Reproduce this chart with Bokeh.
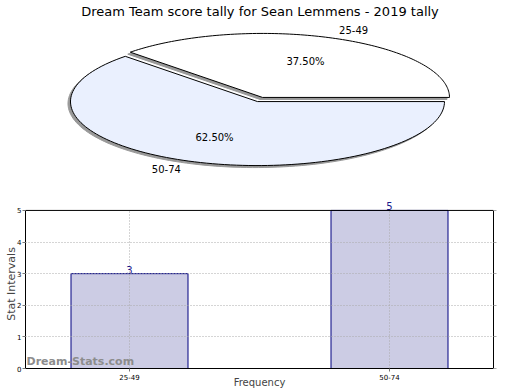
import numpy as np
from bokeh.plotting import figure
from bokeh.layouts import column
from bokeh.models import (Range1d, ColumnDataSource, Label, FixedTicker, LinearAxis, Span)
from bokeh.embed import file_html
from bokeh.resources import INLINE

# ---- data ----
title_text = "Dream Team score tally for Sean Lemmens - 2019 tally"
categories = ["25-49", "50-74"]
counts = [3, 5]
slice_colors = ["#ffffff", "#eaf0fe"]
y_label = "Stat Intervals"
x_label = "Frequency"
watermark = "Dream-Stats.com"
y_ticks = [0, 1, 2, 3, 4, 5]

FONT = "DejaVu Sans"

# ---- layout constants (pixels) ----
W = 520
PH = 198                      # pie figure height
BH = 390 - PH                 # bar figure height
BL, BR = 25, 27               # left/right borders shared by both figures
FW = W - BL - BR              # frame width

# ---- pie (ellipse) ----
RX, RY = 187.0, 64.0          # px per unit
CX, CY = 234.5, 99.0          # centre in frame px (from left / top)
pie = figure(width=W, height=PH, output_backend="svg", toolbar_location=None,
             x_range=Range1d(-CX / RX, (FW - CX) / RX),
             y_range=Range1d(-(PH - CY) / RY, CY / RY),
             x_axis_location=None, y_axis_location=None, title=None,
             min_border_left=BL, min_border_right=BR, min_border_top=0, min_border_bottom=0)
pie.grid.visible = False
pie.outline_line_color = None

total = float(sum(counts))
explode = 0.035
start = 0.0
shadow_xs, shadow_ys, xs, ys = [], [], [], []
pct_x, pct_y, pct_t = [], [], []
lab_x, lab_y = [], []
for c in counts:
    ang = 2 * np.pi * c / total
    mid = start + ang / 2
    ox, oy = explode * np.cos(mid), explode * np.sin(mid)
    t = np.linspace(start, start + ang, 120)
    px = np.concatenate([[ox], ox + np.cos(t), [ox]])
    py = np.concatenate([[oy], oy + np.sin(t), [oy]])
    xs.append(list(px)); ys.append(list(py))
    shadow_xs.append(list(px - 2.5 / RX)); shadow_ys.append(list(py - 2.0 / RY))
    pct_x.append(ox + 0.6 * np.cos(mid)); pct_y.append(oy + 0.6 * np.sin(mid))
    pct_t.append("%.2f%%" % (100 * c / total))
    lab_x.append(ox + 1.07 * np.cos(mid)); lab_y.append(oy + 1.07 * np.sin(mid))
    start += ang

pie.patches(shadow_xs, shadow_ys, fill_color="#999999", line_color="#999999", line_width=1)
pie.patches(xs, ys, fill_color=slice_colors, line_color="black", line_width=1)
pie.text(pct_x, pct_y, text=pct_t, text_font_size="10px", text_font={"value": FONT},
         text_align="center", text_baseline="middle", text_color="black")
for lx, ly, name in zip(lab_x, lab_y, categories):
    pie.text([lx], [ly], text=[name], text_font_size="10px", text_font={"value": FONT},
             text_align="left" if lx > 0 else "right",
             text_baseline="bottom" if ly > 0 else "top", text_color="black")
pie.add_layout(Label(x=0, y=(CY - 3) / RY, text=title_text, text_font=FONT,
                     text_font_size="13px", text_align="center", text_baseline="top",
                     text_color="black"))

# ---- bar chart ----
TOP_PAD, BOT = 11.0, 21        # label row above y=5 (px), bottom border (px)
frame_h = BH - 1 - BOT
unit = (frame_h - TOP_PAD) / max(y_ticks)
xpos = list(range(len(categories)))
src = ColumnDataSource(dict(x=xpos, top=counts))
bar = figure(width=W, height=BH, output_backend="svg", toolbar_location=None,
             x_range=Range1d(-0.4, len(categories) - 0.6),
             y_range=Range1d(0, max(y_ticks) + TOP_PAD / unit),
             title=None,
             min_border_top=1, min_border_right=BR, min_border_left=BL, min_border_bottom=BOT)
bar.outline_line_color = None
bar.vbar(x="x", top="top", width=0.45, source=src, fill_color="#cccce4",
         line_color="#000080", line_width=1)
# grid (drawn over the bars, as in the original)
bar.xgrid.visible = False
bar.segment(x0=xpos, y0=[0] * len(xpos), x1=xpos, y1=[max(y_ticks)] * len(xpos),
            line_color="#aaaaaa", line_dash="1 2", line_width=1)
bar.ygrid.ticker = FixedTicker(ticks=y_ticks[1:-1])
bar.ygrid.grid_line_color = "#aaaaaa"
bar.ygrid.grid_line_dash = "1 2"
bar.ygrid.level = "overlay"
bar.add_layout(Span(location=max(y_ticks), dimension="width", line_color="black", line_width=1))
for xv, cv in zip(xpos, counts):
    bar.add_layout(Label(x=xv, y=cv, text=str(cv), text_align="center",
                         text_baseline="bottom", text_font_size="10px", text_font=FONT,
                         text_color="#1a1a8c"))
bar.xaxis.ticker = FixedTicker(ticks=xpos)
bar.xaxis.major_label_overrides = {i: c for i, c in zip(xpos, categories)}
bar.yaxis.ticker = FixedTicker(ticks=y_ticks)
bar.yaxis.bounds = (0, max(y_ticks))
for ax in (bar.xaxis, bar.yaxis):
    ax.axis_line_color = "black"
    ax.major_tick_line_color = "#777777"
    ax.major_tick_out = 3
    ax.major_tick_in = 0
    ax.minor_tick_line_color = None
    ax.major_label_text_font = FONT
    ax.major_label_text_font_size = "7px"
    ax.major_label_text_color = "black"
    ax.major_label_standoff = 2
bar.yaxis.major_label_standoff = 1
bar.yaxis.axis_label = y_label
bar.yaxis.axis_label_text_font = FONT
bar.yaxis.axis_label_text_font_size = "11px"
bar.yaxis.axis_label_text_font_style = "normal"
bar.yaxis.axis_label_standoff = -4
bar.xaxis.axis_label = x_label
bar.xaxis.axis_label_text_font = FONT
bar.xaxis.axis_label_text_font_size = "10px"
bar.xaxis.axis_label_text_font_style = "normal"
bar.xaxis.axis_label_standoff = -6
right = LinearAxis(ticker=FixedTicker(ticks=[], minor_ticks=y_ticks), bounds=(0, max(y_ticks)),
                   axis_line_color="black", major_tick_line_color=None,
                   minor_tick_line_color="#aaaaaa", minor_tick_out=3, minor_tick_in=0)
bar.add_layout(right, "right")
bar.add_layout(Label(x=1, y=1, x_units="screen", y_units="screen", text=watermark,
                     text_font=FONT, text_font_size="11px", text_color="#8c8c8c",
                     text_font_style="bold", text_baseline="bottom"))

layout = column(pie, bar, spacing=0)
open("out.html", "w").write(file_html(layout, INLINE))
